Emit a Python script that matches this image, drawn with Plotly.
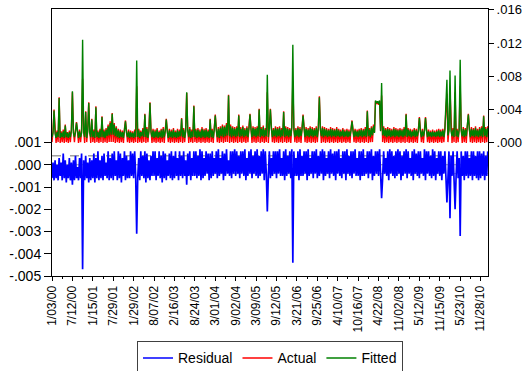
import plotly.graph_objects as go

# tick labels (observation dates shown on the axis)
date_labels = ["1/03/00", "7/12/00", "1/15/01", "7/29/01", "1/29/02", "8/07/02",
               "2/16/03", "8/24/03", "3/01/04", "9/02/04", "3/09/05", "9/12/05",
               "3/21/06", "9/25/06", "4/10/07", "10/16/07", "4/22/08", "11/02/08",
               "5/12/09", "11/15/09", "5/23/10", "11/28/10"]
obs_per_label = 20  # sampled observations between two date labels

# series values, in units of 0.0001 (one row = one label interval)
residual = [
    -6, 1, -7, 2, -6, 0, -7, 3, -5, 1, -7, 5, -6, 2, -8, 0, -6, 3, -7, 1,
    -9, 2, -7, 4, -6, -1, -7, 3, -6, 5, -47, 2, -7, 4, -6, 1, -8, 3, -7, 2,
    -6, 5, -8, 3, -6, 6, -7, 2, -6, 4, -7, 5, -5, 1, -6, 6, -7, 3, -6, 5,
    -7, 6, -5, 2, -7, 6, -6, 5, -8, 3, -5, 6, -7, 4, -6, 2, -6, 6, -5, 5,
    -6, 6, -5, -31, -6, 3, -7, 6, -5, 4, -6, 6, -8, 5, -6, 2, -7, 4, -5, 6,
    -5, 6, -7, 3, -5, 6, -6, 4, -8, 6, -6, 5, -7, 2, -5, 5, -6, 6, -7, 4,
    -6, 6, -5, 3, -7, 6, -5, 4, -6, 6, -5, 2, -9, 5, -5, 6, -7, 3, -5, 6,
    -5, 6, -6, 4, -5, 7, -7, 6, -6, 3, -5, 6, -4, 5, -7, 5, -6, 6, -5, 3,
    -4, 6, -6, 7, -5, 3, -4, 6, -7, 5, -5, 7, -4, 2, -5, 6, -6, 6, -4, 7,
    -5, 6, -4, 4, -6, 6, -4, 6, -5, 7, -7, 3, -5, 6, -4, 7, -6, 4, -4, 6,
    -5, 7, -6, 4, -5, 6, -4, 7, -7, 6, -4, -21, -5, 6, -6, 3, -5, 6, -4, 6,
    -6, 6, -4, 7, -5, 3, -5, 6, -7, 7, -5, 4, -4, 6, -6, 7, -44, 6, -5, 3,
    -5, 6, -7, 7, -5, 4, -5, 6, -4, 6, -7, 7, -5, 3, -4, 6, -6, 6, -4, 7,
    -6, 4, -5, 6, -4, 7, -7, 6, -5, 3, -4, 6, -6, 7, -4, 5, -5, 6, -7, 6,
    -4, 7, -5, 3, -6, 6, -4, 6, -7, 7, -4, 4, -5, 6, -6, 6, -4, 7, -5, 3,
    -5, 6, -7, 6, -5, 7, -5, 3, -4, 6, -6, 6, -4, 7, -7, 4, -5, 6, -4, 6,
    -5, 7, -4, -15, -6, 6, -4, 3, -5, 6, -7, 7, -4, 6, -5, 4, -6, 6, -5, 7,
    -4, 6, -7, 4, -5, 6, -4, 7, -6, 6, -4, 3, -5, 6, -7, 7, -4, 5, -5, 6,
    -6, 6, -4, 3, -5, 7, -7, 6, -4, 6, -5, 4, -6, 7, -5, 6, -7, 3, -4, 6,
    -5, 6, -7, 4, -4, 6, -5, -17, -6, 6, -24, 4, -5, 6, -7, -20, -5, 6, -6, 3,
    -32, 6, -5, 4, -7, 6, -5, 6, -6, 3, -5, 6, -7, 6, -5, 4, -6, 6, -7, 6,
    -6, 5, -5, 6, -7, 4, -5, 6,
]

actual = [
    1, 14, 40, 13, 0, 15, 1, 55, 0, 14, 1, 16, 0, 22, 1, 13, 0, 15, 1, 16,
    61, 14, 1, 15, 25, 13, 0, 16, 1, 14, 77, 15, 0, 38, 1, 15, 49, 14, 0, 29,
    1, 16, 0, 44, 1, 15, 0, 17, 1, 32, 0, 16, 1, 18, 0, 22, 1, 26, 1, 36,
    1, 24, 0, 20, 1, 17, 0, 16, 1, 15, 0, 17, 27, 14, 1, 16, 0, 15, 1, 14,
    0, 16, 1, 68, 0, 17, 1, 15, 0, 18, 1, 35, 0, 19, 1, 16, 49, 15, 0, 17,
    1, 16, 0, 18, 1, 15, 0, 17, 1, 19, 0, 16, 29, 15, 1, 17, 0, 16, 1, 18,
    0, 15, 1, 17, 0, 16, 1, 30, 0, 18, 1, 16, 60, 17, 0, 19, 1, 16, 0, 45,
    1, 17, 0, 18, 1, 16, 0, 19, 1, 17, 0, 18, 1, 16, 0, 29, 1, 17, 0, 18,
    34, 17, 1, 19, 0, 20, 1, 22, 0, 21, 1, 24, 1, 58, 0, 22, 1, 20, 0, 19,
    1, 20, 0, 34, 1, 19, 0, 21, 1, 18, 0, 20, 1, 19, 35, 18, 0, 20, 1, 19,
    0, 20, 1, 41, 0, 19, 1, 21, 0, 18, 1, 61, 0, 20, 41, 19, 1, 18, 0, 20,
    1, 19, 0, 20, 1, 18, 0, 38, 1, 20, 0, 19, 1, 18, 0, 21, 74, 19, 1, 18,
    0, 20, 1, 19, 0, 18, 34, 20, 1, 19, 0, 18, 1, 20, 0, 19, 1, 18, 0, 20,
    1, 19, 56, 18, 0, 20, 1, 19, 0, 18, 1, 17, 0, 19, 1, 18, 0, 17, 1, 19,
    0, 17, 1, 16, 0, 18, 1, 16, 0, 17, 1, 16, 0, 17, 27, 16, 1, 17, 0, 16,
    1, 17, 0, 18, 1, 17, 0, 19, 1, 39, 0, 18, 1, 20, 1, 22, 13, 50, 47, 49,
    46, 50, 15, 57, 1, 20, 0, 18, 1, 19, 0, 18, 1, 17, 0, 19, 1, 18, 0, 17,
    1, 18, 0, 17, 1, 19, 0, 35, 1, 18, 0, 17, 1, 16, 0, 18, 1, 17, 0, 16,
    31, 16, 1, 17, 0, 16, 31, 17, 1, 16, 0, 15, 1, 16, 0, 15, 1, 16, 0, 17,
    1, 16, 0, 17, 1, 18, 43, 59, 1, 17, 63, 16, 0, 18, 1, 61, 0, 17, 1, 18,
    68, 17, 0, 19, 1, 18, 0, 20, 35, 18, 1, 19, 0, 18, 1, 20, 0, 17, 1, 19,
    0, 20, 1, 33, 0, 19, 1, 20,
]

fitted = [
    7, 12, 39, 11, 6, 13, 7, 54, 6, 12, 7, 14, 6, 21, 7, 12, 6, 13, 7, 15,
    62, 12, 7, 13, 24, 11, 6, 14, 7, 12, 124, 13, 7, 37, 6, 14, 48, 12, 7, 28,
    7, 14, 6, 43, 7, 13, 6, 15, 7, 31, 7, 14, 6, 16, 8, 20, 9, 24, 10, 35,
    10, 22, 8, 18, 7, 15, 6, 14, 7, 13, 6, 15, 26, 12, 7, 14, 6, 13, 7, 12,
    6, 14, 7, 99, 7, 15, 6, 13, 8, 16, 7, 34, 7, 17, 6, 14, 48, 13, 7, 15,
    6, 14, 7, 16, 6, 13, 7, 15, 6, 17, 7, 14, 28, 13, 6, 15, 7, 14, 6, 16,
    7, 13, 6, 15, 7, 14, 8, 29, 7, 16, 6, 14, 61, 15, 7, 17, 6, 14, 7, 44,
    7, 15, 6, 16, 7, 14, 6, 17, 7, 15, 6, 16, 7, 14, 6, 28, 7, 15, 6, 16,
    33, 15, 7, 17, 6, 18, 8, 20, 7, 19, 8, 22, 9, 57, 8, 20, 7, 18, 8, 17,
    7, 18, 8, 33, 7, 17, 8, 19, 7, 16, 8, 18, 7, 17, 34, 16, 7, 18, 8, 17,
    7, 18, 8, 40, 7, 17, 8, 19, 7, 16, 8, 82, 7, 18, 40, 17, 7, 16, 8, 18,
    7, 17, 8, 18, 7, 16, 8, 37, 7, 18, 8, 17, 7, 16, 8, 19, 118, 17, 7, 16,
    8, 18, 7, 17, 8, 16, 33, 18, 7, 17, 8, 16, 7, 18, 8, 17, 7, 16, 8, 18,
    7, 17, 55, 16, 8, 18, 7, 17, 8, 16, 7, 15, 8, 17, 7, 16, 8, 15, 7, 17,
    8, 15, 7, 14, 8, 16, 7, 14, 8, 15, 7, 14, 8, 15, 26, 14, 7, 15, 8, 14,
    7, 15, 8, 16, 7, 15, 8, 17, 7, 38, 8, 16, 7, 18, 9, 20, 12, 51, 48, 50,
    47, 51, 14, 72, 9, 18, 8, 16, 7, 17, 8, 16, 7, 15, 8, 17, 7, 16, 8, 15,
    7, 16, 8, 15, 7, 17, 8, 34, 7, 16, 8, 15, 7, 14, 8, 16, 7, 15, 8, 14,
    30, 14, 7, 15, 8, 14, 30, 15, 7, 14, 8, 13, 7, 14, 8, 13, 7, 14, 8, 15,
    7, 14, 8, 15, 7, 16, 42, 76, 9, 15, 87, 14, 8, 16, 7, 81, 8, 15, 7, 16,
    100, 15, 8, 17, 7, 16, 8, 18, 34, 16, 7, 17, 8, 16, 7, 18, 8, 15, 7, 17,
    8, 18, 7, 32, 8, 17, 7, 18,
]
unit = 1e-4
residual_se = 4  # +/- one standard error of the residual, units of 0.0001

left_ticks = [-0.005, -0.004, -0.003, -0.002, -0.001, 0.0, 0.001]
left_text = ["-.005", "-.004", "-.003", "-.002", "-.001", ".000", ".001"]
right_ticks = [0.0, 0.004, 0.008, 0.012, 0.016]
right_text = [".000", ".004", ".008", ".012", ".016"]

n = len(residual)
x = list(range(n))
res_y = [v * unit for v in residual]
act_y = [v * unit for v in actual]
fit_y = [v * unit for v in fitted]

fig = go.Figure()
fig.add_trace(go.Scatter(x=x, y=res_y, mode="lines", name="Residual",
                         line=dict(color="#0000FF", width=1.7), yaxis="y"))
fig.add_trace(go.Scatter(x=x, y=act_y, mode="lines", name="Actual",
                         line=dict(color="#FF0000", width=1.4), yaxis="y2"))
fig.add_trace(go.Scatter(x=x, y=fit_y, mode="lines", name="Fitted",
                         line=dict(color="#008000", width=1.4), yaxis="y2"))

for lvl, dash, col in [(residual_se, "dash", "#707070"), (0, "solid", "#909090"),
                       (-residual_se, "dash", "#A8A8A8")]:
    fig.add_shape(type="line", xref="paper", x0=0, x1=1, yref="y",
                  y0=lvl * unit, y1=lvl * unit, layer="below",
                  line=dict(color=col, width=1, dash=dash))

label_pos = [i * obs_per_label for i in range(len(date_labels))]
x_end = (len(date_labels) - 1) * obs_per_label * 436 / 428.6

font_family = "Liberation Sans, Arial, sans-serif"
fig.update_layout(
    width=527, height=371,
    margin=dict(l=52, r=39, t=9, b=95, autoexpand=False),
    paper_bgcolor="white", plot_bgcolor="white",
    showlegend=True,
    legend=dict(orientation="h", x=0.5, xanchor="center", y=-0.245, yanchor="top",
                bordercolor="#404040", borderwidth=1,
                font=dict(family=font_family, size=14, color="black"),
                itemwidth=30, tracegroupgap=0),
    xaxis=dict(range=[0, x_end], automargin=False,
               tickmode="array", tickvals=label_pos, ticktext=date_labels,
               tickangle=-90, ticks="outside", ticklen=4, tickcolor="black",
               showgrid=False, zeroline=False, showline=True, linecolor="black",
               linewidth=1, mirror=True,
               tickfont=dict(family=font_family, size=12, color="black"),
               minor=dict(ticks="outside", ticklen=2, tickcolor="black",
                          tickmode="linear", tick0=0, dtick=obs_per_label / 2)),
    yaxis=dict(range=[-0.005, 0.007], automargin=False, tickmode="array",
               tickvals=left_ticks, ticktext=left_text, ticks="outside",
               ticklen=7, tickcolor="black",
               showgrid=False, zeroline=False, showline=True, linecolor="black",
               linewidth=1, tickfont=dict(family=font_family, size=14, color="black")),
    yaxis2=dict(range=[-0.016, 0.0161], automargin=False, overlaying="y",
                side="right", tickmode="array", tickvals=right_ticks,
                ticktext=right_text, ticks="outside", ticklen=5, tickcolor="black",
                showgrid=False, zeroline=False, showline=True, linecolor="black",
                linewidth=1, tickfont=dict(family=font_family, size=13, color="black")),
)

fig.write_html("out.html")
